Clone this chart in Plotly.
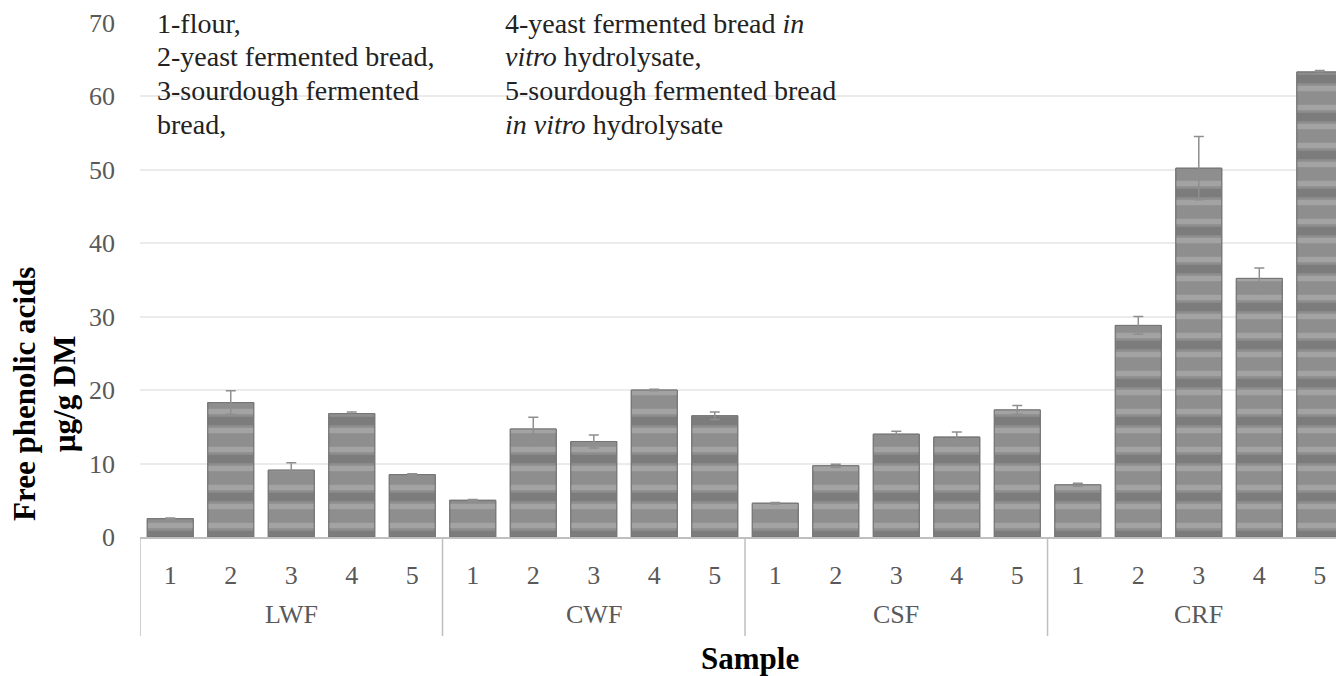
import plotly.graph_objects as go

groups = ["LWF", "CWF", "CSF", "CRF"]
samples = ["1", "2", "3", "4", "5"]
values = {
    "LWF": [2.5, 18.3, 9.1, 16.8, 8.5],
    "CWF": [5.0, 14.7, 13.0, 20.0, 16.5],
    "CSF": [4.6, 9.7, 14.0, 13.6, 17.3],
    "CRF": [7.1, 28.8, 50.2, 35.2, 63.3],
}
errors = {
    "LWF": [0.1, 1.6, 1.0, 0.2, 0.1],
    "CWF": [0.1, 1.6, 0.9, 0.1, 0.5],
    "CSF": [0.1, 0.2, 0.4, 0.7, 0.6],
    "CRF": [0.2, 1.2, 4.3, 1.4, 0.2],
}
key_left = ["1-flour,", "2-yeast fermented bread,", "3-sourdough fermented", "bread,"]
key_right = ["4-yeast fermented bread <i>in</i>", "<i>vitro</i> hydrolysate,",
             "5-sourdough fermented bread", "<i>in vitro</i> hydrolysate"]

keys = [f"{g} {s}" for g in groups for s in samples]
ticktext = [s for _ in groups for s in samples]
yv = [v for g in groups for v in values[g]]
ye = [e for g in groups for e in errors[g]]

serif = "Liberation Serif"
n = len(samples)

# plot-area geometry in page pixels (used only to place text)
PL, PW, PT, PH = 140, 1204, 22, 515
def px(x):
    return (x - PL) / PW
def py(y):
    return (PT + PH - y) / PH

fig = go.Figure()
fig.add_trace(go.Bar(
    x=keys, y=yv,
    marker=dict(color="#8e8e8e", line=dict(color="#767676", width=1),
                pattern=dict(shape="-", fgcolor="#6a6a6a", bgcolor="#8e8e8e",
                             size=38, solidity=0.22, fillmode="overlay")),
    showlegend=False, hoverinfo="skip",
))
fig.add_trace(go.Bar(
    x=keys, y=yv,
    marker=dict(color="rgba(0,0,0,0)", line=dict(color="#767676", width=1),
                pattern=dict(shape="-", fgcolor="#b8b8b8", bgcolor="rgba(0,0,0,0)",
                             size=19, solidity=0.28, fillmode="overlay")),
    error_y=dict(type="data", array=ye, visible=True, color="#8f8f8f", thickness=1.5, width=5),
    showlegend=False, hoverinfo="skip",
))

# white box behind the key text (hides gridlines)
fig.add_shape(type="rect", xref="paper", yref="paper", x0=px(147), x1=px(855), y0=py(150), y1=1.05,
              fillcolor="white", line=dict(width=0), layer="between")

# group dividers and group labels
for i, g in enumerate(groups):
    fig.add_shape(type="line", xref="x", yref="paper", x0=i * n - 0.5, x1=i * n - 0.5,
                  y0=0, y1=py(636), line=dict(color="#bfbfbf", width=1.5))
    fig.add_annotation(xref="x", yref="paper", x=i * n + (n - 1) / 2, y=py(614),
                       xanchor="center", yanchor="middle", showarrow=False, text=g,
                       font=dict(family=serif, size=26, color="#595959"))
fig.add_shape(type="line", xref="x", yref="paper", x0=len(groups) * n - 0.5, x1=len(groups) * n - 0.5,
              y0=0, y1=py(636), line=dict(color="#bfbfbf", width=1.5))

line_centers = [24, 57, 91, 125]
for txt, yc in zip(key_left, line_centers):
    fig.add_annotation(xref="paper", yref="paper", x=px(155), y=py(yc), xanchor="left", yanchor="middle",
                       showarrow=False, text=txt, font=dict(family=serif, size=28, color="#222222"))
for txt, yc in zip(key_right, line_centers):
    fig.add_annotation(xref="paper", yref="paper", x=px(503), y=py(yc), xanchor="left", yanchor="middle",
                       showarrow=False, text=txt, font=dict(family=serif, size=28, color="#222222"))

# axis titles
fig.add_annotation(xref="paper", yref="paper", x=px(44), y=py(394), xanchor="center", yanchor="middle",
                   textangle=-90, showarrow=False,
                   text="<b>Free phenolic acids<br>µg/g DM</b>",
                   font=dict(family=serif, size=31, color="#000000"))
fig.add_annotation(xref="paper", yref="paper", x=px(750), y=py(658), xanchor="center", yanchor="middle",
                   showarrow=False, text="<b>Sample</b>",
                   font=dict(family=serif, size=31, color="#000000"))

fig.update_layout(
    width=1336, height=668,
    margin=dict(l=132, r=0, t=14, b=139),
    paper_bgcolor="white", plot_bgcolor="white",
    barmode="overlay", bargap=0.24,
    font=dict(family=serif, color="#595959", size=26),
    xaxis=dict(
        type="category", range=[-0.5, 19.4],
        tickmode="array", tickvals=keys, ticktext=ticktext,
        showline=True, linecolor="#bfbfbf", linewidth=1.5,
        tickfont=dict(family=serif, size=26, color="#595959"),
        ticklabelstandoff=14,
        showgrid=False, ticks="",
    ),
    yaxis=dict(
        range=[0, 70.1], tickvals=[0, 10, 20, 30, 40, 50, 60, 70],
        showgrid=True, gridcolor="#ebebeb", gridwidth=1.5,
        zeroline=False, showline=False, ticks="",
        ticklabelstandoff=24,
        tickfont=dict(family=serif, size=26, color="#595959"),
    ),
)

fig.write_html("out.html")
